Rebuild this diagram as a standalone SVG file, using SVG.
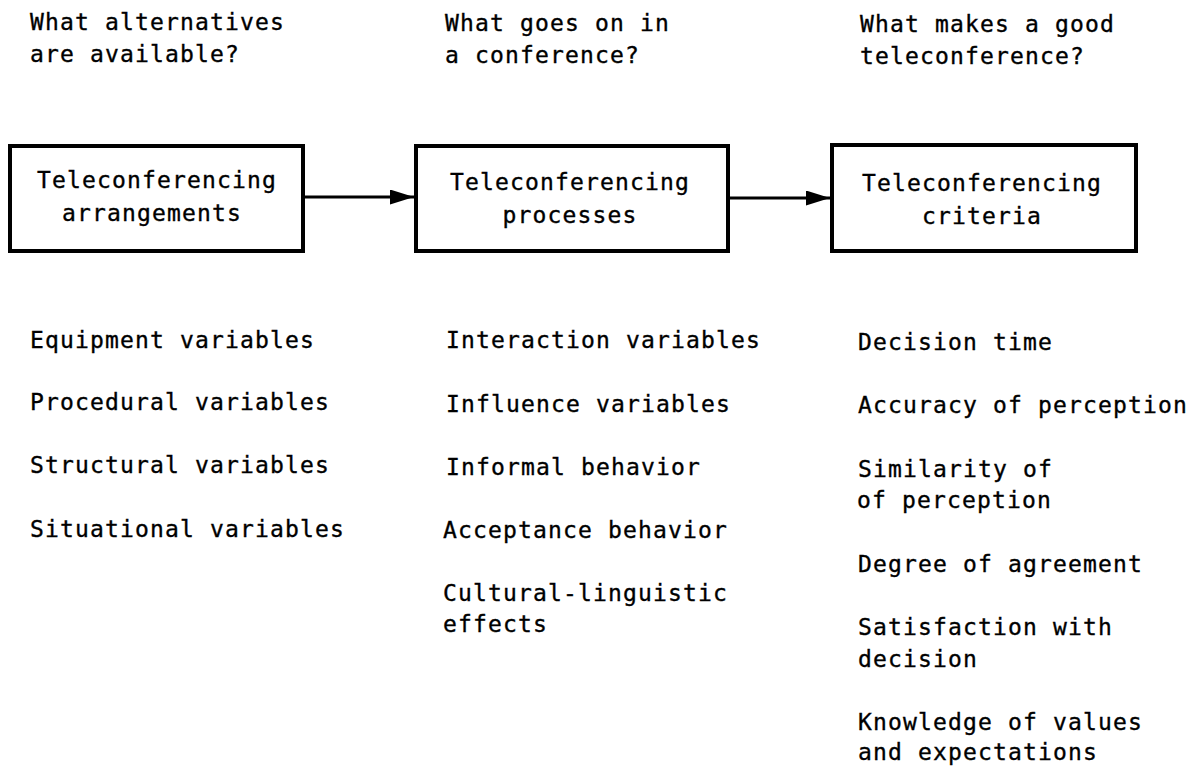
<svg xmlns="http://www.w3.org/2000/svg" width="1201" height="769" viewBox="0 0 1201 769">
<style>
text{font-family:"DejaVu Sans Mono","Liberation Mono",monospace;font-size:23px;letter-spacing:1.15px;fill:#000;stroke:#000;stroke-width:0.35px}
.box{fill:#fff;stroke:#000;stroke-width:4}
.c{text-anchor:middle}
.conn{stroke:#000;stroke-width:3;fill:none}
</style>
<defs>
<marker id="ah" markerWidth="8" markerHeight="5" refX="8" refY="2.5" orient="auto" markerUnits="strokeWidth">
<path d="M0,0 L8,2.5 L0,5 Z" fill="#000"/>
</marker>
</defs>
<rect width="1201" height="769" fill="#fff"/>
<g id="questions">
<text x="30" y="30">What alternatives</text>
<text x="30" y="62">are available?</text>
<text x="445" y="31">What goes on in</text>
<text x="445" y="63">a conference?</text>
<text x="860" y="32">What makes a good</text>
<text x="860" y="64">teleconference?</text>
</g>
<g id="node-arrangements">
<rect class="box" x="10" y="146" width="293" height="105"/>
<text class="c" x="157" y="188">Teleconferencing</text>
<text class="c" x="152" y="221">arrangements</text>
</g>
<g id="node-processes">
<rect class="box" x="416" y="146" width="312" height="105"/>
<text class="c" x="570" y="190">Teleconferencing</text>
<text class="c" x="570" y="223">processes</text>
</g>
<g id="node-criteria">
<rect class="box" x="832" y="145" width="304" height="106"/>
<text class="c" x="982" y="191">Teleconferencing</text>
<text class="c" x="982" y="224">criteria</text>
</g>
<g id="connectors">
<line class="conn" x1="303" y1="197" x2="414" y2="197" marker-end="url(#ah)"/>
<line class="conn" x1="728" y1="198" x2="830" y2="198" marker-end="url(#ah)"/>
</g>
<g id="list-arrangements">
<text x="30" y="348">Equipment variables</text>
<text x="30" y="410">Procedural variables</text>
<text x="30" y="473">Structural variables</text>
<text x="30" y="537">Situational variables</text>
</g>
<g id="list-processes">
<text x="446" y="348">Interaction variables</text>
<text x="446" y="412">Influence variables</text>
<text x="446" y="475">Informal behavior</text>
<text x="443" y="538">Acceptance behavior</text>
<text x="443" y="601">Cultural-linguistic</text>
<text x="443" y="632">effects</text>
</g>
<g id="list-criteria">
<text x="858" y="350">Decision time</text>
<text x="858" y="413">Accuracy of perception</text>
<text x="858" y="477">Similarity of</text>
<text x="857" y="508">of perception</text>
<text x="858" y="572">Degree of agreement</text>
<text x="858" y="635">Satisfaction with</text>
<text x="858" y="667">decision</text>
<text x="858" y="730">Knowledge of values</text>
<text x="858" y="760">and expectations</text>
</g>
</svg>
